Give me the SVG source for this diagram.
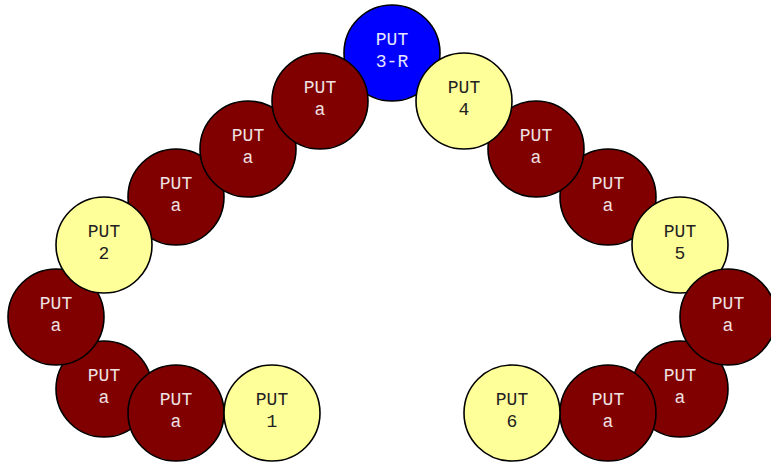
<svg xmlns="http://www.w3.org/2000/svg" width="771" height="465" viewBox="0 0 771 465">
<style>
circle{stroke:#000;stroke-width:1.6}
.r circle{fill:#800000}
.y circle{fill:#ffff99}
.b circle{fill:#0000ff}
text{font-family:"Liberation Mono","Courier New",monospace;font-size:18px;text-anchor:middle}
.r text{fill:#f0e0e0}
.b text{fill:#e6e6ff}
.y text{fill:#222}
</style>
<rect width="771" height="465" fill="#fff"/>
<g id="connectors"/>
<g id="n_put3r" class="b"><circle cx="392" cy="53" r="48"/><text x="392" y="45">PUT</text><text x="392" y="67">3-R</text></g>
<g id="n_l4" class="r"><circle cx="176" cy="197" r="48"/><text x="176" y="189">PUT</text><text x="176" y="211">a</text></g>
<g id="n_l5" class="r"><circle cx="248" cy="149" r="48"/><text x="248" y="141">PUT</text><text x="248" y="163">a</text></g>
<g id="n_l6" class="r"><circle cx="320" cy="101" r="48"/><text x="320" y="93">PUT</text><text x="320" y="115">a</text></g>
<g id="n_l2" class="r"><circle cx="104" cy="389" r="48"/><text x="104" y="381">PUT</text><text x="104" y="403">a</text></g>
<g id="n_l1" class="r"><circle cx="176" cy="413" r="48"/><text x="176" y="405">PUT</text><text x="176" y="427">a</text></g>
<g id="n_put1" class="y"><circle cx="272" cy="413" r="48"/><text x="272" y="405">PUT</text><text x="272" y="427">1</text></g>
<g id="n_l3" class="r"><circle cx="56" cy="317" r="48"/><text x="56" y="309">PUT</text><text x="56" y="331">a</text></g>
<g id="n_put2" class="y"><circle cx="104" cy="245" r="48"/><text x="104" y="237">PUT</text><text x="104" y="259">2</text></g>
<g id="n_r4" class="r"><circle cx="608" cy="197" r="48"/><text x="608" y="189">PUT</text><text x="608" y="211">a</text></g>
<g id="n_r5" class="r"><circle cx="536" cy="149" r="48"/><text x="536" y="141">PUT</text><text x="536" y="163">a</text></g>
<g id="n_put4" class="y"><circle cx="464" cy="101" r="48"/><text x="464" y="93">PUT</text><text x="464" y="115">4</text></g>
<g id="n_r2" class="r"><circle cx="680" cy="389" r="48"/><text x="680" y="381">PUT</text><text x="680" y="403">a</text></g>
<g id="n_r1" class="r"><circle cx="608" cy="413" r="48"/><text x="608" y="405">PUT</text><text x="608" y="427">a</text></g>
<g id="n_put6" class="y"><circle cx="512" cy="413" r="48"/><text x="512" y="405">PUT</text><text x="512" y="427">6</text></g>
<g id="n_put5" class="y"><circle cx="680" cy="245" r="48"/><text x="680" y="237">PUT</text><text x="680" y="259">5</text></g>
<g id="n_r3" class="r"><circle cx="728" cy="317" r="48"/><text x="728" y="309">PUT</text><text x="728" y="331">a</text></g>
</svg>
